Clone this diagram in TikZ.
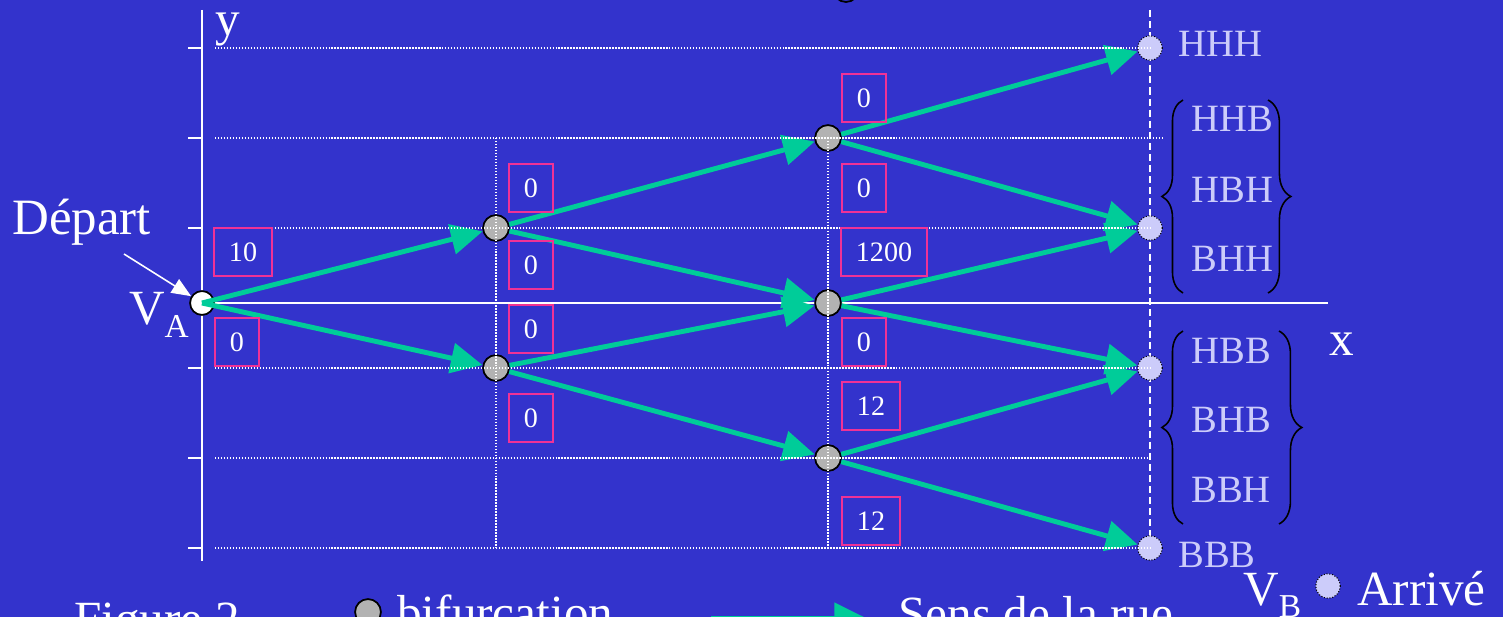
\documentclass[tikz,border=0pt]{standalone}
\usepackage{fontspec}
\setmainfont{Liberation Serif}
\usepackage{tkz-euclide}
\usetikzlibrary{arrows.meta,calc,decorations.pathreplacing}
\definecolor{BgClr}{RGB}{51,51,204}
\definecolor{FlowClr}{RGB}{0,204,153}
\definecolor{CostClr}{RGB}{240,50,150}
\definecolor{BifClr}{RGB}{178,178,178}
\definecolor{EndClr}{RGB}{204,204,250}
\newcommand\bigtxt{\fontsize{28}{30}\selectfont}
\newcommand\midtxt{\fontsize{22}{24}\selectfont}
\newcommand\boxtxt{\fontsize{16}{18}\selectfont}

\begin{document}
\begin{tikzpicture}[x=0.02cm,y=-0.02cm,
  bif/.style={circle,draw=black,line width=1pt,fill=BifClr,minimum size=14.7pt,inner sep=0pt},
  start/.style={circle,draw=black,line width=1pt,fill=white,minimum size=13.6pt,inner sep=0pt},
  endpt/.style={circle,draw=black,densely dotted,line width=0.6pt,fill=EndClr,minimum size=14pt,inner sep=0pt},
  flow/.style={FlowClr,line width=2.8pt,-{Triangle[length=18pt,width=17pt]}},
  cost/.style={draw=CostClr,line width=1.1pt,text=white,font=\boxtxt,minimum height=27pt,inner xsep=8.5pt,inner ysep=0pt},
  grid/.style={white,line width=0.8pt,dash pattern=on 0.85pt off 0.85pt},
  axis/.style={white,line width=1pt},
  big/.style={text=white,font=\bigtxt,inner sep=0pt,anchor=base west},
  word/.style={text=EndClr,font=\midtxt,inner sep=0pt,anchor=base west},
  curly/.style={black,line width=0.9pt,decorate}]
\clip (0,0) rectangle (1503,617);
\fill[BgClr] (0,0) rectangle (1503,617);

\tkzDefPoints{202/303/A,496/228/B1,496/368/B2,828/138/C1,828/303/C2,828/458/C3,
  1150/48/D1,1150/228/D2,1150/368/D3,1150/548/D4}

% axes
\draw[axis] (202,10) -- (202,561);
\draw[axis] (202,303) -- (1328,303);
\foreach \y in {48,138,228,368,458,548} \draw[axis] (188,\y) -- (202,\y);
\draw[white,line width=1pt,dash pattern=on 4pt off 2.3pt] (1150,10) -- (1150,548);
\node[big] (ylab) at (215,36) {y};
\node[big] (xlab) at (1329,356) {x};

% nodes
\node[start] (VA) at (A) {};
\node[bif] (b1) at (B1) {};
\node[bif] (b2) at (B2) {};
\node[bif] (c1) at (C1) {};
\node[bif] (c2) at (C2) {};
\node[bif] (c3) at (C3) {};
\node[endpt] (d1) at (D1) {};
\node[endpt] (d2) at (D2) {};
\node[endpt] (d3) at (D3) {};
\node[endpt] (d4) at (D4) {};
\draw[black,line width=1pt] (846,-11) circle (13);

% streets
\draw[flow] (VA.center) -- (b1);
\draw[flow] (VA.center) -- (b2);
\draw[flow] (b1) -- (c1);
\draw[flow] (b1) -- (c2);
\draw[flow] (b2) -- (c2);
\draw[flow] (b2) -- (c3);
\draw[flow] (c1) -- (d1);
\draw[flow] (c1) -- (d2);
\draw[flow] (c2) -- (d2);
\draw[flow] (c2) -- (d3);
\draw[flow] (c3) -- (d3);
\draw[flow] (c3) -- (d4);

% grid
\foreach \y in {48,228,368,458,548} \draw[grid] (215,\y) -- (1150,\y);
\draw[grid] (215,138) -- (1162,138);
\draw[grid] (496,138) -- (496,548);
\draw[grid] (828,138) -- (828,548);

% costs
\node[cost] (k1) at (243,252) {10};
\node[cost] (k2) at (237,342) {0};
\node[cost] (k3) at (531,188) {0};
\node[cost] (k4) at (531,265) {0};
\node[cost] (k5) at (531,329) {0};
\node[cost] (k6) at (531,418) {0};
\node[cost] (k7) at (864,98) {0};
\node[cost] (k8) at (864,188) {0};
\node[cost] (k9) at (884,252) {1200};
\node[cost] (k10) at (864,342) {0};
\node[cost] (k11) at (871,406) {12};
\node[cost] (k12) at (871,521) {12};

% start
\node[big] (dep) at (12,235) {\fontsize{29}{30}\selectfont Départ};
\coordinate (dtail) at (124,254);
\draw[white,line width=0.9pt,-{Triangle[length=11pt,width=9pt]}] (dtail) -- (VA);
\node[big,anchor=base east] (valab) at (189,325) {V\raisebox{-7pt}{\fontsize{19}{19}\selectfont A}};

% arrivals
\node[word] (w1) at (1178,57) {HHH};
\node[word] (w2) at (1191,132) {HHB};
\node[word] (w3) at (1191,203) {HBH};
\node[word] (w4) at (1191,272) {BHH};
\node[word] (w5) at (1191,364) {HBB};
\node[word] (w6) at (1191,433) {BHB};
\node[word] (w7) at (1191,502) {BBH};
\node[word] (w8) at (1178,567) {BBB};
\draw[curly,decoration={brace,amplitude=12pt}] (1183,293) -- (1183,100);
\draw[curly,decoration={brace,amplitude=13pt}] (1268,100) -- (1268,293);
\draw[curly,decoration={brace,amplitude=12pt}] (1183,524) -- (1183,331);
\draw[curly,decoration={brace,amplitude=13pt}] (1279,331) -- (1279,524);

% legend
\node[big] (fig) at (74,635) {Figure 2};
\node[bif] (legbif) at (368,612) {};
\node[big] (legbiflab) at (397,629) {bifurcation};
\coordinate (legA) at (711,618);
\coordinate (legB) at (866,618);
\draw[flow] (legA) -- (legB);
\node[big] (legflowlab) at (898,630) {Sens de la rue};
\node[big] (vblab) at (1243,605) {V\raisebox{-7pt}{\fontsize{19}{19}\selectfont B}};
\node[endpt] (legend) at (1328,586) {};
\node[big] (legendlab) at (1357,605) {Arrivé};
\end{tikzpicture}
\end{document}
